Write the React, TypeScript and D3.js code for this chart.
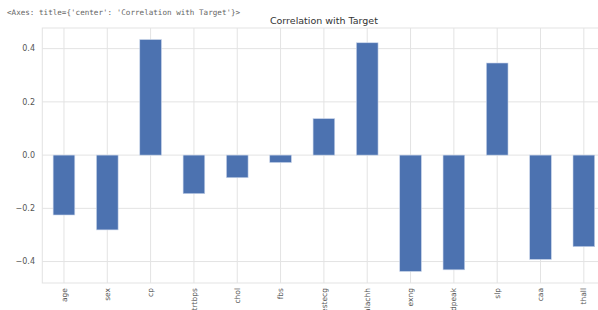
import React from "react";
import * as d3 from "d3";

const categories = ["age", "sex", "cp", "trtbps", "chol", "fbs", "restecg", "thalachh", "exng", "oldpeak", "slp", "caa", "thall"];
const values = [-0.225, -0.281, 0.434, -0.145, -0.085, -0.028, 0.137, 0.422, -0.437, -0.431, 0.346, -0.392, -0.344];
const yTicks = [-0.4, -0.2, 0.0, 0.2, 0.4];
const title = "Correlation with Target";
const header = "<Axes: title={'center': 'Correlation with Target'}>";

export default function App() {
  const W = 598, H = 310;
  const left = 42.3, right = 605.5, top = 28, bottom = 283;
  const x = d3.scaleBand<string>().domain(categories).range([left, right]).paddingInner(0).paddingOuter(0);
  const y = d3.scaleLinear().domain([-0.4805, 0.4775]).range([bottom, top]);
  const bw = x.bandwidth();
  const barW = bw * 0.5;
  const fmt = (v: number) => (v < 0 ? "\u2212" : "") + Math.abs(v).toFixed(1);
  const grid = "#e3e3e3";
  return (
    <svg width={W} height={H} style={{ position: "absolute", left: 0, top: 0, background: "#fff" }} fontFamily="DejaVu Sans, sans-serif">
      <text x={7} y={15} fontSize={7.6} fontFamily="DejaVu Sans Mono, monospace" fill="#666">{header}</text>
      <rect x={left} y={top} width={right - left} height={bottom - top} fill="#fff" stroke={grid} strokeWidth={1} />
      {yTicks.map((t) => (
        <g key={t}>
          <line x1={left} x2={right} y1={y(t)} y2={y(t)} stroke={grid} strokeWidth={1} />
          <text x={35} y={y(t)} dy="0.35em" textAnchor="end" fontSize={8} fill="#555">{fmt(t)}</text>
        </g>
      ))}
      {categories.map((c) => {
        const cx = (x(c) as number) + bw / 2;
        return (
          <g key={c}>
            <line x1={cx} x2={cx} y1={top} y2={bottom} stroke={grid} strokeWidth={1} />
            <text transform={`translate(${cx},288) rotate(-90)`} dy="0.35em" textAnchor="end" fontSize={7.5} fill="#555">{c}</text>
          </g>
        );
      })}
      {categories.map((c, i) => {
        const cx = (x(c) as number) + bw / 2;
        const v = values[i];
        const y0 = y(Math.max(0, v));
        const y1 = y(Math.min(0, v));
        return <rect key={c} x={cx - barW / 2} y={y0} width={barW} height={y1 - y0} fill="#4c72b0" stroke="#c9d5ea" strokeWidth={0.6} />;
      })}
      <text x={(left + right) / 2} y={24} textAnchor="middle" fontSize={9.5} fill="#333">{title}</text>
    </svg>
  );
}
